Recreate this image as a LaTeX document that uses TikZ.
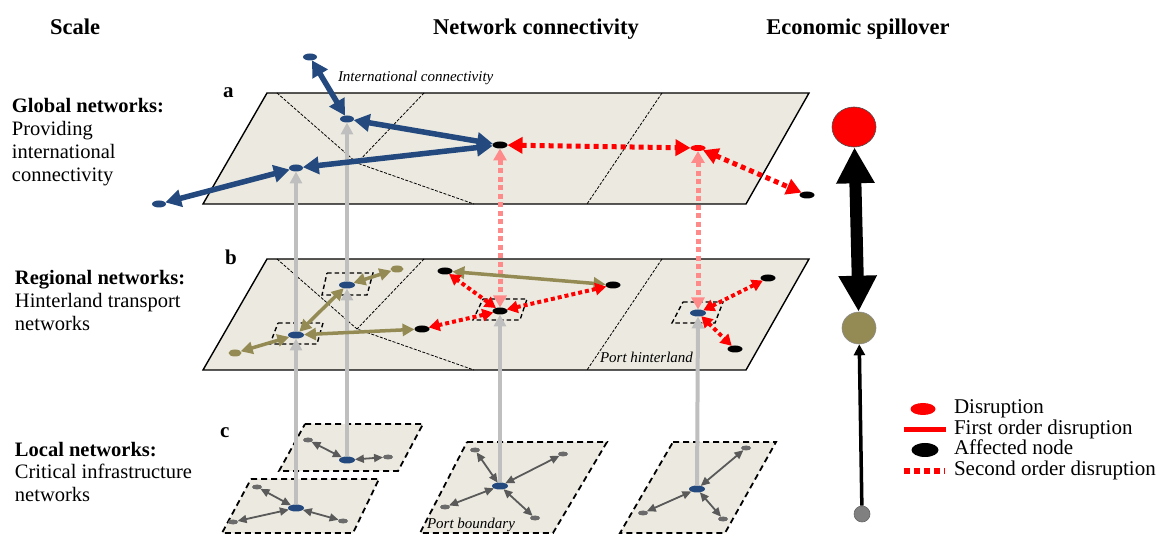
\documentclass[tikz,border=0pt]{standalone}
\usepackage{fontspec}
\setmainfont{Liberation Serif}
\usetikzlibrary{arrows.meta,shapes.geometric}

\definecolor{plane}{HTML}{ECEAE0}
\definecolor{navy}{HTML}{23497F}
\definecolor{olive}{HTML}{948A54}
\definecolor{pinkish}{HTML}{FF8A8A}
\definecolor{lightgrey}{HTML}{BFBFBF}
\definecolor{darkgrey}{HTML}{5A5A5A}
\definecolor{leafgrey}{HTML}{6B6B6B}
\definecolor{ecgrey}{HTML}{808080}

\tikzset{
  nd/.style={ellipse, inner sep=0pt, outer sep=0pt},
  gblue/.style={nd, fill=navy, minimum width=14pt, minimum height=7pt},
  gblack/.style={nd, fill=black, minimum width=15pt, minimum height=7pt},
  gred/.style={nd, fill=red, minimum width=15pt, minimum height=6pt},
  oliveleaf/.style={nd, fill=olive, minimum width=13pt, minimum height=7pt},
  leaf/.style={nd, fill=leafgrey, minimum width=10pt, minimum height=5pt},
  hub/.style={nd, fill=navy, minimum width=16pt, minimum height=7pt},
  planeface/.style={fill=plane, draw=black, line width=1.4pt, line join=miter},
  localface/.style={fill=plane, draw=black, line width=1.8pt, dash pattern=on 6pt off 4pt},
  regionline/.style={draw=black, line width=0.8pt, dash pattern=on 3pt off 1.5pt},
  portbox/.style={draw=black, line width=1.4pt, dash pattern=on 4.5pt off 3pt},
  globallink/.style={draw=navy, line width=5.5pt,
    {Triangle[length=16pt,width=17pt]}-{Triangle[length=16pt,width=17pt]}},
  reddot/.style={draw=red, line width=5pt, dash pattern=on 5pt off 4pt,
    {Triangle[length=15pt,width=16pt]}-{Triangle[length=15pt,width=16pt]}},
  reddotb/.style={draw=red, line width=4pt, dash pattern=on 4pt off 3pt,
    {Triangle[length=11pt,width=12pt]}-{Triangle[length=11pt,width=12pt]}},
  pinkdot/.style={draw=pinkish, line width=5pt, dash pattern=on 5pt off 3.5pt,
    {Triangle[length=12pt,width=13pt]}-{Triangle[length=12pt,width=13pt]}},
  olivelink/.style={draw=olive, line width=3.5pt,
    {Triangle[length=12pt,width=12pt]}-{Triangle[length=12pt,width=12pt]}},
  greyup/.style={draw=lightgrey, line width=4pt, -{Triangle[length=12pt,width=12pt]}},
  locallink/.style={draw=darkgrey, line width=1.8pt,
    {Triangle[length=9pt,width=8pt]}-{Triangle[length=9pt,width=8pt]}},
  txt/.style={inner sep=0pt, outer sep=0pt},
  ttl/.style={txt, anchor=base, font=\fontsize{22.5}{26}\selectfont\bfseries},
  scalelbl/.style={txt, anchor=base west, align=left, font=\fontsize{20.5}{23}\selectfont},
  letter/.style={txt, anchor=base west, font=\fontsize{21}{24}\selectfont\bfseries},
  note/.style={txt, anchor=base west, font=\fontsize{15}{17}\selectfont\itshape},
  legtext/.style={txt, anchor=base west, font=\fontsize{21}{22}\selectfont},
}

\begin{document}
\begin{tikzpicture}[x=1pt,y=-1pt]
\useasboundingbox (0,0) rectangle (1160,534);

% ---------- titles ----------
\node[ttl] (tscale) at (75,35) {Scale};
\node[ttl] (tnet) at (536,35) {Network connectivity};
\node[ttl] (tecon) at (858,35) {Economic spillover};

% ---------- scale labels (anchored at the baseline of their last line) ----------
\node[scalelbl] (lglobal) at (12,182) {\textbf{Global networks:}\\Providing\\international\\connectivity};
\node[scalelbl] (lregional) at (15,331) {\textbf{Regional networks:}\\Hinterland transport\\networks};
\node[scalelbl] (llocal) at (15,502) {\textbf{Local networks:}\\Critical infrastructure\\networks};

\node[letter] (la) at (223,98) {a};
\node[letter] (lb) at (225,265) {b};
\node[letter] (lc) at (220,438) {c};

% ---------- local network planes ----------
\path[localface] (305,424) -- (423,424) -- (398,471) -- (279,471) -- cycle;
\path[localface] (251,479) -- (379,479) -- (353,533) -- (222,533) -- cycle;
\path[localface] (467,442) -- (607,442) -- (553,533) -- (420,533) -- cycle;
\path[localface] (673,442) -- (776,442) -- (725,533) -- (620,533) -- cycle;

% ---------- global and regional planes ----------
\foreach \y in {93,259} {
  \path[planeface] (267,\y) -- (809,\y) -- (746,\y+111) -- (203,\y+111) -- cycle;
  \draw[regionline] (277,\y) -- (357,\y+70) -- (474,\y+111);
  \draw[regionline] (424,\y) -- (357,\y+70);
  \draw[regionline] (662,\y) -- (587,\y+111);
}

% port and hub boundaries on the regional layer
\draw[portbox] (327,273) -- (373,273) -- (367,295) -- (322,295) -- cycle;
\draw[portbox] (278,323) -- (323,323) -- (317,344) -- (270,344) -- cycle;
\draw[portbox] (483,299) -- (527,299) -- (520,320) -- (473,320) -- cycle;
\draw[portbox] (683,302) -- (723,302) -- (715,323) -- (672,323) -- cycle;

% ---------- notes ----------
\node[note] (ninter) at (338,82) {International connectivity};
\node[note] (nhinter) at (600,363) {Port hinterland};
\node[note] (nbound) at (427,529) {Port boundary};

% ---------- global nodes ----------
\node[gblue] (a1) at (347,119) {};
\node[gblue] (a2) at (296,168) {};
\node[gblue] (atop) at (310,57) {};
\node[gblue] (aleft) at (159,204) {};
\node[gblack] (aport) at (500,145) {};
\node[gred] (ared) at (698,148) {};
\node[gblack] (aext) at (807,195) {};

% ---------- regional nodes ----------
\node[hub] (b1) at (347,285) {};
\node[oliveleaf] (bo1) at (397,269) {};
\node[hub] (b2) at (296,335) {};
\node[oliveleaf] (bo2) at (235,353) {};
\node[gblack] (bk1) at (422,329) {};
\node[gblack] (bport) at (500,311) {};
\node[gblack] (bk2) at (445,271) {};
\node[gblack] (bk3) at (613,285) {};
\node[hub] (b4) at (698,313) {};
\node[gblack] (bk4) at (768,278) {};
\node[gblack] (bk5) at (735,349) {};

% ---------- local nodes ----------
\node[hub] (c1) at (347,460) {};
\node[leaf] (c1a) at (308,440) {};
\node[leaf] (c1b) at (388,457) {};
\node[hub] (c2) at (296,508) {};
\node[leaf] (c2a) at (257,487) {};
\node[leaf] (c2b) at (233,522) {};
\node[leaf] (c2c) at (343,521) {};
\node[hub] (c3) at (500,486) {};
\node[leaf] (c3a) at (475,450) {};
\node[leaf] (c3b) at (563,454) {};
\node[leaf] (c3c) at (445,507) {};
\node[leaf] (c3d) at (535,518) {};
\node[hub] (c4) at (697,489) {};
\node[leaf] (c4a) at (746,448) {};
\node[leaf] (c4b) at (643,513) {};
\node[leaf] (c4c) at (723,519) {};

% ---------- links between layers ----------
\draw[greyup] (c1) -- (b1);
\draw[greyup] (b1) -- (a1);
\draw[greyup] (c2) -- (b2);
\draw[greyup] (b2) -- (a2);
\draw[greyup] (c3) -- (bport);
\draw[greyup] (c4) -- (b4);
\draw[pinkdot] (aport) -- (bport);
\draw[pinkdot] (ared) -- (b4);

% ---------- local links ----------
\foreach \leafnode in {c1a,c1b} \draw[locallink] (c1) -- (\leafnode);
\foreach \leafnode in {c2a,c2b,c2c} \draw[locallink] (c2) -- (\leafnode);
\foreach \leafnode in {c3a,c3b,c3c,c3d} \draw[locallink] (c3) -- (\leafnode);
\foreach \leafnode in {c4a,c4b,c4c} \draw[locallink] (c4) -- (\leafnode);

% ---------- regional links ----------
\draw[olivelink] (b1) -- (bo1);
\draw[olivelink] (b1) -- (b2);
\draw[olivelink] (b2) -- (bo2);
\draw[olivelink] (b2) -- (bk1);
\draw[olivelink] (bk2) -- (bk3);
\draw[reddotb] (bport) -- (bk2);
\draw[reddotb] (bport) -- (bk1);
\draw[reddotb] (bport) -- (bk3);
\draw[reddotb] (b4) -- (bk4);
\draw[reddotb] (b4) -- (bk5);

% ---------- global links ----------
\draw[globallink] (a1) -- (atop);
\draw[globallink] (a1) -- (aport);
\draw[globallink] (a2) -- (aport);
\draw[globallink] (a2) -- (aleft);
\draw[reddot] (aport) -- (ared);
\draw[reddot] (ared) -- (aext);

% ---------- economic spillover ----------
\node[ellipse, fill=red, draw=black!70, line width=0.6pt, minimum width=44pt, minimum height=40pt, inner sep=0pt] (ered) at (854,127) {};
\node[ellipse, fill=olive, draw=black!45, line width=0.6pt, minimum width=34pt, minimum height=32pt, inner sep=0pt] (eolive) at (859,328) {};
\node[circle, fill=ecgrey, draw=black!60, line width=0.6pt, minimum size=16pt, inner sep=0pt] (egrey) at (862,514) {};
\draw[line width=12pt, {Triangle[length=36pt,width=36pt]}-{Triangle[length=36pt,width=36pt]}] (ered) -- (eolive);
\draw[line width=3.5pt, -{Triangle[length=11pt,width=11pt]}] (egrey) -- (eolive);

% ---------- legend ----------
\node[nd, fill=red, minimum width=25pt, minimum height=12pt] (kdis) at (923,409) {};
\coordinate (kfa) at (904,430);
\coordinate (kfb) at (946,430);
\draw[red, line width=5pt] (kfa) -- (kfb);
\node[nd, fill=black, minimum width=27pt, minimum height=14pt] (kaff) at (925,450) {};
\coordinate (ksa) at (904,471);
\coordinate (ksb) at (945,471);
\draw[red, line width=6pt, dash pattern=on 6pt off 4pt] (ksa) -- (ksb);
\node[legtext] (tdis) at (954,414) {Disruption};
\node[legtext] (tfirst) at (954,435) {First order disruption};
\node[legtext] (taff) at (954,455) {Affected node};
\node[legtext] (tsec) at (954,476) {Second order disruption};

\end{tikzpicture}
\end{document}
